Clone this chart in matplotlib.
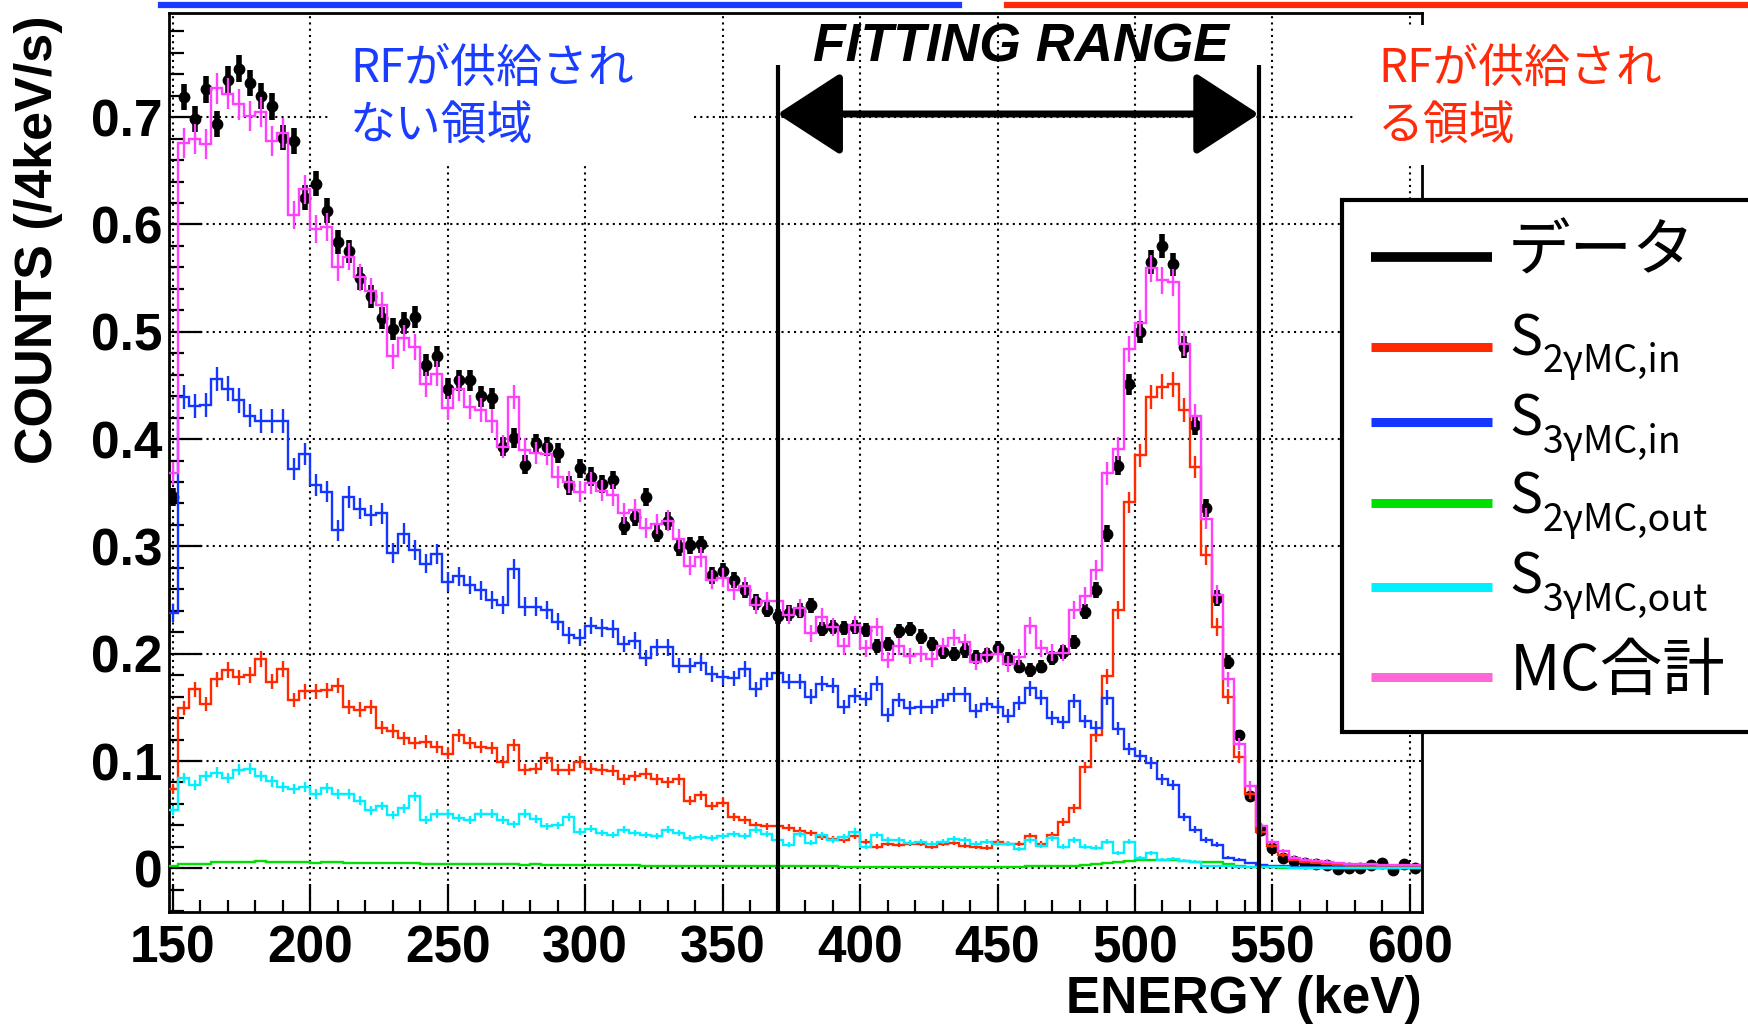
import numpy as np
import matplotlib
matplotlib.use("Agg")
import matplotlib.pyplot as plt
from matplotlib.lines import Line2D
from matplotlib.patches import Rectangle
from matplotlib.ticker import MultipleLocator, FixedLocator, FixedFormatter

# ---------------- data ----------------
bin_edges_kev = np.arange(148, 608, 4)          # 148 ... 604, 4 keV bins
bin_centers_kev = bin_edges_kev[:-1] + 2

data_counts = [
    0.346, 0.719, 0.698, 0.726, 0.694, 0.735, 0.745, 0.732, 0.720, 0.710,
    0.681, 0.678, 0.625, 0.638, 0.613, 0.584, 0.575, 0.550, 0.533, 0.513,
    0.503, 0.508, 0.514, 0.469, 0.477, 0.447, 0.455, 0.455, 0.440, 0.438,
    0.393, 0.401, 0.376, 0.396, 0.393, 0.387, 0.357, 0.373, 0.365,
    0.358, 0.362, 0.319, 0.327, 0.346, 0.312, 0.324, 0.299, 0.301, 0.302,
    0.273, 0.277, 0.269, 0.259, 0.248, 0.241, 0.235, 0.238, 0.240, 0.245,
    0.223, 0.225, 0.224, 0.225, 0.222, 0.207, 0.209, 0.221, 0.223, 0.216,
    0.209, 0.202, 0.200, 0.203, 0.197,
    0.199, 0.205, 0.195, 0.188, 0.185, 0.188, 0.196, 0.202, 0.211, 0.239,
    0.259, 0.312, 0.375, 0.451, 0.500, 0.565, 0.580, 0.563, 0.486, 0.413,
    0.336, 0.252, 0.192, 0.124, 0.067, 0.036, 0.019, 0.010, 0.007, 0.005,
    0.004, 0.003, -0.001, 0.000, 0.000, 0.003, 0.005, -0.002, 0.004, 0.000,
]

s2g_in = [  # red
    0.074, 0.149, 0.167, 0.153, 0.176, 0.185, 0.178, 0.180, 0.195, 0.174,
    0.186, 0.157, 0.165, 0.165, 0.166, 0.170, 0.150, 0.148, 0.150, 0.131,
    0.128, 0.121, 0.117, 0.118, 0.113, 0.107, 0.124, 0.117, 0.113, 0.112,
    0.099, 0.115, 0.092, 0.093, 0.103, 0.092, 0.092, 0.099,
    0.093, 0.092, 0.091, 0.083, 0.086, 0.088, 0.083, 0.080, 0.083, 0.063,
    0.068, 0.058, 0.061, 0.048, 0.045, 0.040, 0.039, 0.039, 0.038, 0.035,
    0.033, 0.029, 0.027, 0.026, 0.030, 0.025, 0.020, 0.023, 0.022, 0.023,
    0.023, 0.020, 0.023, 0.024, 0.021, 0.020,
    0.019, 0.025, 0.023, 0.023, 0.030, 0.023, 0.031, 0.043, 0.056, 0.094,
    0.124, 0.179, 0.241, 0.341, 0.385, 0.439, 0.449, 0.451, 0.427, 0.374,
    0.292, 0.225, 0.160, 0.104, 0.069, 0.034, 0.021, 0.012, 0.008, 0.006,
    0.005, 0.004, 0.003, 0.002, 0.002, 0.002, 0.001, 0.001, 0.001, 0.001,
]

s3g_in = [  # blue
    0.238, 0.439, 0.431, 0.432, 0.456, 0.447, 0.436, 0.422, 0.417, 0.417,
    0.417, 0.372, 0.386, 0.357, 0.351, 0.315, 0.346, 0.335, 0.329, 0.331,
    0.294, 0.312, 0.297, 0.284, 0.293, 0.267, 0.272, 0.264, 0.259, 0.250,
    0.245, 0.279, 0.244, 0.244, 0.241, 0.230, 0.217, 0.215,
    0.226, 0.224, 0.223, 0.209, 0.212, 0.196, 0.206, 0.206, 0.189, 0.189,
    0.191, 0.181, 0.178, 0.177, 0.186, 0.167, 0.176, 0.182, 0.174, 0.174,
    0.160, 0.172, 0.170, 0.150, 0.161, 0.158, 0.172, 0.143, 0.157, 0.149,
    0.150, 0.150, 0.157, 0.162, 0.162, 0.147,
    0.153, 0.150, 0.142, 0.154, 0.168, 0.159, 0.140, 0.136, 0.156, 0.137,
    0.131, 0.159, 0.130, 0.111, 0.105, 0.098, 0.083, 0.078, 0.048, 0.036,
    0.026, 0.022, 0.010, 0.008, 0.005, 0.003, 0.002,
    0.002, 0.001, 0.001, 0.001, 0.001, 0.001, 0.0005, 0.0005, 0.0005, 0.0005,
    0.0005, 0.0005, 0.0005,
]

s2g_out = [  # green
    0.002, 0.004, 0.004, 0.004, 0.006, 0.006, 0.006, 0.006, 0.007, 0.006,
    0.006, 0.006, 0.006, 0.005, 0.006, 0.006, 0.005, 0.005, 0.005, 0.005,
    0.005, 0.005, 0.005, 0.004, 0.004, 0.004, 0.004, 0.004, 0.004, 0.004,
    0.004, 0.004, 0.003, 0.004, 0.003, 0.003, 0.003, 0.003,
    0.003, 0.003, 0.003, 0.003, 0.003, 0.002, 0.002, 0.002, 0.002, 0.002,
    0.002, 0.002, 0.002, 0.002, 0.002, 0.002, 0.002, 0.002, 0.002, 0.002,
    0.002, 0.002, 0.002, 0.0015, 0.0015, 0.0015, 0.0015, 0.0015, 0.0015, 0.0015,
    0.0015, 0.0015, 0.0015, 0.0015, 0.0015, 0.0015,
    0.0015, 0.0015, 0.0015, 0.0015, 0.002, 0.002, 0.002, 0.002, 0.0025, 0.003,
    0.004, 0.005, 0.0055, 0.007, 0.008, 0.008, 0.008, 0.008, 0.007, 0.006,
    0.006, 0.0055, 0.004, 0.0025, 0.0015, 0.001, 0.001, 0.0005,
    0.0005, 0.0005, 0.0005, 0.0005, 0.0005, 0.0005, 0.0005, 0.0005, 0.0005, 0.0005,
    0.0005, 0.0005,
]

s3g_out = [  # cyan
    0.054, 0.084, 0.078, 0.086, 0.089, 0.084, 0.092, 0.093, 0.086, 0.081,
    0.076, 0.074, 0.076, 0.069, 0.075, 0.069, 0.069, 0.063, 0.054, 0.058,
    0.050, 0.056, 0.067, 0.045, 0.051, 0.051, 0.047, 0.045, 0.051, 0.051,
    0.045, 0.041, 0.051, 0.046, 0.039, 0.040, 0.048, 0.034,
    0.037, 0.033, 0.031, 0.036, 0.033, 0.031, 0.030, 0.036, 0.033, 0.028,
    0.029, 0.028, 0.030, 0.032, 0.030, 0.036, 0.032, 0.026, 0.022, 0.032,
    0.024, 0.031, 0.026, 0.029, 0.034, 0.020, 0.031, 0.026, 0.026, 0.024,
    0.025, 0.023, 0.025, 0.027, 0.026, 0.023,
    0.025, 0.023, 0.023, 0.018, 0.026, 0.021, 0.028, 0.020, 0.026, 0.020,
    0.019, 0.025, 0.014, 0.025, 0.010, 0.014, 0.008, 0.009, 0.007, 0.006,
    0.002, 0.002, 0.002, 0.001, 0.001, 0.001, 0.001, 0.001,
    0.0005, 0.0005, 0.0005, 0.0005, 0.0005, 0.0005, 0.0005, 0.0005, 0.0005, 0.0005,
    0.0005, 0.0005,
]

mc_total = [  # magenta
    0.368, 0.676, 0.680, 0.675, 0.727, 0.722, 0.712, 0.701, 0.705, 0.678,
    0.685, 0.609, 0.633, 0.596, 0.598, 0.560, 0.570, 0.551, 0.538, 0.525,
    0.477, 0.494, 0.486, 0.451, 0.461, 0.429, 0.447, 0.430, 0.427, 0.417,
    0.393, 0.439, 0.390, 0.387, 0.386, 0.365, 0.360, 0.351,
    0.359, 0.352, 0.348, 0.331, 0.334, 0.317, 0.321, 0.324, 0.307, 0.282,
    0.290, 0.269, 0.271, 0.259, 0.263, 0.245, 0.249, 0.249, 0.236, 0.243,
    0.219, 0.234, 0.225, 0.207, 0.227, 0.205, 0.225, 0.194, 0.207, 0.198,
    0.200, 0.195, 0.207, 0.215, 0.211, 0.192,
    0.199, 0.200, 0.190, 0.197, 0.226, 0.205, 0.201, 0.201, 0.241, 0.254,
    0.278, 0.368, 0.391, 0.484, 0.508, 0.559, 0.548, 0.546, 0.489, 0.422,
    0.326, 0.255, 0.176, 0.116, 0.077, 0.039, 0.025, 0.016, 0.010, 0.008,
    0.007, 0.006, 0.005, 0.004, 0.004, 0.004, 0.003, 0.003, 0.003, 0.003,
]

xtick_values = [150, 200, 250, 300, 350, 400, 450, 500, 550, 600]
xtick_labels = ["150", "200", "250", "300", "350", "400", "450", "500", "550", "600"]
ytick_values = [0.0, 0.1, 0.2, 0.3, 0.4, 0.5, 0.6, 0.7]
ytick_labels = ["0", "0.1", "0.2", "0.3", "0.4", "0.5", "0.6", "0.7"]

fit_range_kev = [370, 545]

legend_labels = ["データ", "2γMC,in", "3γMC,in", "2γMC,out", "3γMC,out", "MC合計"]

# ---------------- style ----------------
W, H, DPI = 1748, 1024, 100
C_RED = "#ff2a00"
C_BLUE = "#1437ff"
C_GREEN = "#00e000"
C_CYAN = "#00f0ff"
C_MAG = "#ff40ff"
C_MAG_LEG = "#ff66d6"
C_TXT_BLUE = "#1a3cff"
C_TXT_RED = "#ff2a0a"
MC_ERR_SCALE = 0.017
DATA_ERR_SCALE = 0.0145
BOLD_FONT = ["Liberation Sans", "DejaVu Sans"]
CJK_FONT = ["Noto Sans CJK JP", "DejaVu Sans"]

plt.rcParams["font.family"] = BOLD_FONT

fig = plt.figure(figsize=(W / DPI, H / DPI), dpi=DPI)
fig.patch.set_facecolor("white")


def fx(px):
    return px / W


def fy(py):
    return 1 - py / H


ax = fig.add_axes([fx(169.4), fy(912), fx(1422) - fx(169.4), fy(13) - fy(912)])
ax.set_xlim(148.8, 604.4)
ax.set_ylim(-0.0407, 0.7971)

# grid
ax.xaxis.set_major_locator(FixedLocator(xtick_values))
ax.xaxis.set_major_formatter(FixedFormatter(xtick_labels))
ax.yaxis.set_major_locator(FixedLocator(ytick_values))
ax.yaxis.set_major_formatter(FixedFormatter(ytick_labels))
ax.xaxis.set_minor_locator(MultipleLocator(10))
ax.yaxis.set_minor_locator(MultipleLocator(0.02))
ax.grid(True, which="major", color="k", linestyle=(0, (1, 2)), linewidth=1.5, zorder=0)
ax.set_axisbelow(True)

ax.tick_params(which="both", direction="in", top=False, right=False, width=1.6, colors="k")
ax.tick_params(axis="y", which="major", length=24, pad=5)
ax.tick_params(axis="y", which="minor", length=11)
ax.tick_params(axis="x", which="major", length=20, pad=9)
ax.tick_params(axis="x", which="minor", length=9)
for lab in ax.get_xticklabels() + ax.get_yticklabels():
    lab.set_fontsize(37)
    lab.set_fontweight("bold")
    lab.set_family(BOLD_FONT)
for sp in ax.spines.values():
    sp.set_linewidth(2)

# data points
d = np.array(data_counts)
ax.errorbar(bin_centers_kev, d, yerr=DATA_ERR_SCALE * np.sqrt(np.abs(d)),
            fmt="o", ms=8.5, mew=0, color="k", ecolor="k", elinewidth=4,
            capsize=0, zorder=3)

# MC histograms
for vals, col, z in [(s2g_in, C_RED, 4), (s3g_in, C_BLUE, 4), (s2g_out, C_GREEN, 4),
                     (s3g_out, C_CYAN, 4), (mc_total, C_MAG, 5)]:
    v = np.array(vals)
    ax.stairs(v, bin_edges_kev, baseline=None, color=col, lw=1.7, zorder=z)
    if col != C_GREEN:
        ax.errorbar(bin_centers_kev, v, yerr=MC_ERR_SCALE * np.sqrt(v), fmt="none",
                    ecolor=col, elinewidth=1.7, capsize=0, zorder=z)

# fitting range
ax.vlines(fit_range_kev, -0.0407, 0.749, colors="k", lw=3, zorder=6)
ax.annotate("", xy=(fit_range_kev[0], 0.703), xytext=(fit_range_kev[1], 0.703),
            arrowprops=dict(arrowstyle="<|-|>,head_length=2.0,head_width=1.3",
                            mutation_scale=20, lw=5, color="k", shrinkA=0, shrinkB=0),
            zorder=6)
fig.text(fx(1021), fy(48), "FITTING RANGE", ha="center", va="center", fontsize=38.5,
         fontweight="bold", style="italic", family=BOLD_FONT, zorder=5)

# white boxes behind RF texts
fig.add_artist(Rectangle((fx(330), fy(163)), fx(692) - fx(330), fy(15) - fy(163),
                         transform=fig.transFigure, facecolor="white", edgecolor="none", zorder=2))
fig.add_artist(Rectangle((fx(1354), fy(165)), fx(1760) - fx(1354), fy(25) - fy(165),
                         transform=fig.transFigure, facecolor="white", edgecolor="none", zorder=2))
fig.text(fx(350), fy(69), "RFが供給され", ha="left", va="center", fontsize=33,
         color=C_TXT_BLUE, family=CJK_FONT, zorder=5)
fig.text(fx(350), fy(126), "ない領域", ha="left", va="center", fontsize=33,
         color=C_TXT_BLUE, family=CJK_FONT, zorder=5)
fig.text(fx(1378), fy(69), "RFが供給され", ha="left", va="center", fontsize=33,
         color=C_TXT_RED, family=CJK_FONT, zorder=5)
fig.text(fx(1378), fy(126), "る領域", ha="left", va="center", fontsize=33,
         color=C_TXT_RED, family=CJK_FONT, zorder=5)

# lines cut at the top of the picture
fig.add_artist(Line2D([fx(161), fx(959)], [fy(4.5), fy(4.5)], color=C_TXT_BLUE, lw=4.5, zorder=5))
fig.add_artist(Line2D([fx(1007), fx(1748)], [fy(4.5), fy(4.5)], color=C_TXT_RED, lw=4.5, zorder=5))

# axis titles
fig.text(fx(39), fy(240), "COUNTS (/4keV/s)", rotation=90, ha="center", va="center",
         fontsize=37.5, fontweight="bold", family=BOLD_FONT)
fig.text(fx(1422), fy(1000), "ENERGY (keV)", ha="right", va="center",
         fontsize=37, fontweight="bold", family=BOLD_FONT)

# legend (drawn by hand)
fig.add_artist(Rectangle((fx(1342), fy(732)), fx(1775) - fx(1342), fy(200) - fy(732),
                         transform=fig.transFigure, facecolor="white", edgecolor="k",
                         lw=3, zorder=6))
leg_line_y = [257, 347, 422, 503, 587, 677]
leg_cols = ["k", C_RED, C_BLUE, C_GREEN, C_CYAN, C_MAG_LEG]
for yy, cc in zip(leg_line_y, leg_cols):
    fig.add_artist(Line2D([fx(1371), fx(1492)], [fy(yy), fy(yy)], color=cc,
                          lw=7 if cc == "k" else 6.5, solid_capstyle="butt", zorder=7))
fig.text(fx(1508), fy(252), legend_labels[0], ha="left", va="center", fontsize=45,
         family=CJK_FONT, zorder=8)
fig.text(fx(1510), fy(672), legend_labels[5], ha="left", va="center", fontsize=45,
         family=CJK_FONT, zorder=8)
for base, sub in zip([355, 436, 514, 594], legend_labels[1:5]):
    fig.text(fx(1509), fy(base), "S", ha="left", va="baseline", fontsize=40,
             family=CJK_FONT, zorder=8)
    fig.text(fx(1543), fy(base + 17), sub, ha="left", va="baseline", fontsize=27,
             family=CJK_FONT, zorder=8)

fig.savefig("out.png", dpi=DPI, facecolor="white")
